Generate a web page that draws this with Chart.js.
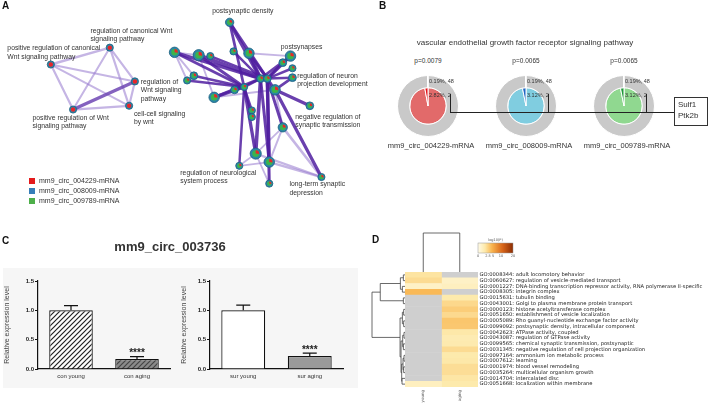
<!DOCTYPE html>
<html lang="en">
<head>
<meta charset="UTF-8">
<title>circRNA figure</title>
<script src="https://cdn.jsdelivr.net/npm/chart.js"></script>
<style>
    body { margin: 0; background: #fff; font-family: Arial, "Liberation Sans", sans-serif; color: #333; }
    #fig { position: relative; width: 708px; height: 405px; overflow: hidden; background: #fff; }
    #fig canvas, #fig .abs { position: absolute; }
    .letter { position: absolute; font-weight: bold; font-size: 10px; line-height: 10px; color: #111; }
    .legItem { position: absolute; left: 29px; font-size: 7px; line-height: 8px; color: #333; white-space: nowrap; }
    .legItem span { display: inline-block; width: 6px; height: 6px; margin-right: 4px; vertical-align: -1px; }
    .bTxt { position: absolute; white-space: nowrap; color: #333; }
    #cBg { left: 3px; top: 268px; width: 355px; height: 120px; background: #f6f6f6; }
    #cTitle { left: 60px; top: 239px; width: 220px; text-align: center; font-weight: bold; font-size: 13px; line-height: 16px; color: #333; }
</style>
</head>
<body>
<div id="fig">
    <canvas id="netChart" width="380" height="205" style="left:0;top:0"></canvas>
    <div class="letter" style="left:2px;top:1px">A</div>
    <div id="netLegend"></div>

    <div id="panelB"></div>
    <div class="letter" style="left:379px;top:1px">B</div>

    <div class="letter" style="left:2px;top:236px">C</div>
    <div id="cTitle" class="abs">mm9_circ_003736</div>
    <div id="cBg" class="abs"></div>
    <canvas id="conChart" width="177" height="120" style="left:3px;top:268px"></canvas>
    <canvas id="surChart" width="178" height="120" style="left:180px;top:268px"></canvas>

    <div class="letter" style="left:372px;top:235px">D</div>
    <canvas id="heatChart" width="348" height="180" style="left:360px;top:225px"></canvas>
</div>

<script>
// ---------------- data ----------------

// A: enrichment network (node layout)
const netLayoutX = [107, 46, 133, 69, 127,
    231, 174, 199, 211, 235, 251, 294, 286, 296, 296, 194, 187, 263, 270, 278, 236, 246, 215, 314, 254, 254, 286, 258, 272, 241, 326, 272];
const netLayoutY = [44, 62, 80, 110, 106,
    17, 49, 52, 53, 48, 50, 53, 60, 66, 76, 74, 79, 77, 77, 89, 89, 86, 97, 106, 111, 118, 129, 157, 166, 170, 182, 189];
const netGeneCount = [3, 3, 3, 3, 3,
    5, 10, 12, 3, 3, 10, 10, 4, 3, 4, 4, 3, 4, 4, 10, 4, 3, 10, 4, 3, 3, 7, 12, 10, 3, 3, 3];
const netCluster = [0, 0, 0, 0, 0,
    1, 1, 1, 1, 1, 1, 1, 1, 1, 1, 1, 1, 1, 1, 1, 1, 1, 1, 1, 1, 1, 1, 1, 1, 1, 1, 1];
// [from, to, similarity]
const netEdgesLight = [[0, 1, .6], [0, 2, .5], [0, 3, .4], [0, 4, .5], [1, 2, .4], [1, 3, .5], [1, 4, .4], [2, 4, .5], [3, 4, .5],
    [6, 16, .4], [6, 15, .4], [15, 16, .3], [6, 7, .3], [7, 22, .3], [22, 19, .4], [27, 29, .3], [27, 30, .5], [28, 30, .6],
    [26, 30, .7], [26, 28, .4], [29, 28, .3], [31, 27, .3], [31, 28, .3], [26, 27, .3], [19, 26, .4], [10, 11, .3]];
const netEdgesMid = [[2, 3, .9]];
const netEdgesDark = [[5, 17, .9], [5, 21, .6], [5, 18, .7], [6, 17, .8], [6, 21, .6], [7, 17, 1], [7, 21, .7], [8, 18, .5],
    [9, 17, .5], [10, 17, .9], [10, 18, .7], [11, 18, .8], [12, 18, .6], [13, 18, .5], [14, 19, .6], [15, 21, .6], [16, 21, .5],
    [20, 21, .6], [22, 21, .8], [22, 17, .7], [23, 19, .8], [24, 21, .5], [25, 21, .5], [26, 18, .7], [27, 17, .9], [27, 21, .8],
    [28, 18, .9], [28, 17, .7], [29, 21, .5], [30, 19, .8], [31, 18, .7], [19, 18, .6], [17, 18, .7], [21, 17, .6], [14, 18, .5], [11, 17, .6]];
const netLabelText = [
    ['regulation of canonical Wnt', 'signaling pathway'],
    ['positive regulation of canonical', 'Wnt signaling pathway'],
    ['regulation of', 'Wnt signaling', 'pathway'],
    ['positive regulation of Wnt', 'signaling pathway'],
    ['cell-cell signaling', 'by wnt'],
    ['postsynaptic density'],
    ['postsynapses'],
    ['regulation of neuron', 'projection development'],
    ['negative regulation of', 'synaptic transmission'],
    ['regulation of neurological', 'system process'],
    ['long-term synaptic', 'depression']
];
const netLabelAt = [[87, 26], [1, 45], [139, 81], [27, 119], [132, 115], [213, 5], [284, 43], [301, 74], [299, 118], [180, 178], [293, 190]];
const netLists = ['mm9_circ_004229-mRNA', 'mm9_circ_008009-mRNA', 'mm9_circ_009789-mRNA'];

// B: VEGF receptor signaling pathway enrichment
const vegfTitle = 'vascular endothelial growth factor receptor signaling pathway';
const vegfLists = ['mm9_circ_004229-mRNA', 'mm9_circ_008009-mRNA', 'mm9_circ_009789-mRNA'];
const vegfP = ['p=0.0079', 'p=0.0065', 'p=0.0065'];
const vegfBgPct = [0.19, 0.19, 0.19];
const vegfBgCount = [48, 48, 48];
const vegfHitPct = [2.82, 3.12, 3.12];
const vegfHitCount = [2, 2, 2];
const vegfGenes = ['Sulf1', 'Ptk2b'];

// C: qPCR of mm9_circ_003736
const qpcrConGroups = ['con young', 'con aging'];
const qpcrConMean = [1.0, 0.17];
const qpcrConErr = [0.08, 0.04];
const qpcrSurGroups = ['sur young', 'sur aging'];
const qpcrSurMean = [1.0, 0.22];
const qpcrSurErr = [0.09, 0.05];
const qpcrStars = ['', '****'];

// D: GO heatmap, log10(P) per list (null = not enriched)
const heatColumns = ['young', 'aging'];
const goTerms = [
    'GO:0008344: adult locomotory behavior',
    'GO:0060627: regulation of vesicle-mediated transport',
    'GO:0001227: DNA-binding transcription repressor activity, RNA polymerase II-specific',
    'GO:0008305: integrin complex',
    'GO:0015631: tubulin binding',
    'GO:0043001: Golgi to plasma membrane protein transport',
    'GO:0000123: histone acetyltransferase complex',
    'GO:0051650: establishment of vesicle localization',
    'GO:0005089: Rho guanyl-nucleotide exchange factor activity',
    'GO:0099092: postsynaptic density, intracellular component',
    'GO:0042623: ATPase activity, coupled',
    'GO:0043087: regulation of GTPase activity',
    'GO:0099565: chemical synaptic transmission, postsynaptic',
    'GO:0031345: negative regulation of cell projection organization',
    'GO:0097164: ammonium ion metabolic process',
    'GO:0007612: learning',
    'GO:0001974: blood vessel remodeling',
    'GO:0035264: multicellular organism growth',
    'GO:0014704: intercalated disc',
    'GO:0051668: localization within membrane'
];
const heatYoung = [1.6, 2.0, 0.5, 4.0, null, null, null, null, null, null, null, null, null, null, null, null, null, null, null, 0.7];
const heatAging = [null, 0.5, 0.7, null, 1.3, 2.2, 2.8, 2.1, 3.2, 3.1, 1.4, 1.1, 1.2, 2.0, 1.3, 1.4, 1.9, 1.9, 1.5, 1.3];
const heatTicks = [0, 2.5, 5, 10, 20];
// row clustering: [childA, childB, height], new ids start at 20
const rowMerges = [[0, 1, .05], [2, 3, .08], [20, 21, .14], [4, 5, .05], [22, 23, .75],
    [6, 7, .04], [8, 9, .04], [25, 26, .08], [10, 11, .03], [12, 13, .05], [28, 29, .07], [14, 15, .03], [16, 17, .04],
    [31, 32, .06], [18, 19, .09], [33, 34, .1], [30, 35, .12], [27, 36, .15], [24, 37, 1.0]];

// ---------------- setup ----------------
Chart.defaults.animation = false;
Chart.defaults.font.family = 'Arial, "Liberation Sans", sans-serif';
Chart.defaults.plugins.legend.display = false;
Chart.defaults.plugins.tooltip.enabled = false;

// ---------------- A: network ----------------
const netPt = i => ({ x: netLayoutX[i], y: netLayoutY[i] });
const nodeRadius = n => 1.6 + 1.15 * Math.sqrt(n);

const netDatasets = [{
    data: netLayoutX.map((x, i) => netPt(i)),
    pointRadius: netGeneCount.map(nodeRadius),
    backgroundColor: '#2a86a8',
    borderColor: '#1b5f7e',
    borderWidth: 0.8,
    order: 0
}];
function addEdges(list, color, base, scale, order) {
    list.forEach(([a, b, w]) => netDatasets.push({
        data: [netPt(a), netPt(b)], showLine: true, pointRadius: 0,
        borderColor: color, borderWidth: base + scale * w, borderCapStyle: 'round', order: order
    }));
}
addEdges(netEdgesLight, 'rgba(150, 120, 205, 0.55)', 1.2, 2, 3);
addEdges(netEdgesMid, 'rgba(110, 70, 180, 0.85)', 1.5, 2, 2);
addEdges(netEdgesDark, 'rgba(80, 30, 160, 0.85)', 1.2, 2.6, 1);

const netDecor = {
    id: 'netDecor',
    afterDatasetsDraw(chart) {
        const ctx = chart.ctx;
        const meta = chart.getDatasetMeta(0);
        meta.data.forEach((pt, i) => {
            const r = nodeRadius(netGeneCount[i]) * 0.62;
            ctx.save();
            if (netCluster[i] === 0) {
                ctx.fillStyle = '#e8262a';
                ctx.beginPath(); ctx.arc(pt.x, pt.y, r, 0, Math.PI * 2); ctx.fill();
            } else {
                ctx.fillStyle = '#3cb44b';
                ctx.beginPath(); ctx.arc(pt.x, pt.y, r, 0, Math.PI * 2); ctx.fill();
                ctx.fillStyle = '#e8262a';
                ctx.beginPath(); ctx.moveTo(pt.x, pt.y); ctx.arc(pt.x, pt.y, r, -Math.PI / 2, 0.15); ctx.closePath(); ctx.fill();
            }
            ctx.restore();
        });
        // term labels
        const xs = chart.scales.x, ys = chart.scales.y;
        ctx.save();
        ctx.fillStyle = '#333';
        ctx.font = '6.8px Arial, "Liberation Sans", sans-serif';
        ctx.textBaseline = 'middle';
        netLabelText.forEach((lines, k) => {
            lines.forEach((t, j) => ctx.fillText(t, xs.getPixelForValue(netLabelAt[k][0]), ys.getPixelForValue(netLabelAt[k][1] + j * 8.8)));
        });
        ctx.restore();
    }
};

new Chart(document.getElementById('netChart'), {
    type: 'scatter',
    data: { datasets: netDatasets },
    options: {
        responsive: false,
        layout: { padding: 0 },
        scales: {
            x: { type: 'linear', min: 0, max: 380, display: false },
            y: { type: 'linear', min: 0, max: 205, reverse: true, display: false }
        }
    },
    plugins: [netDecor]
});

const netColors = ['#e41a1c', '#377eb8', '#4daf4a'];
document.getElementById('netLegend').innerHTML = netLists.map((n, i) =>
    `<div class="legItem" style="top:${177 + i * 10}px"><span style="background:${netColors[i]}"></span>${n}</div>`).join('');

// ---------------- B: pies ----------------
const pieCx = [428, 526, 624], pieCy = 106;
const pieMain = ['#e26a6a', '#80cde0', '#90d890'];
const pieHit = ['#e3141b', '#2166c4', '#1f9a3a'];
let bHtml = `<div class="bTxt" style="left:375px;top:38px;width:300px;text-align:center;font-size:8px">${vegfTitle}</div>`;
vegfLists.forEach((name, i) => {
    const cx = pieCx[i];
    bHtml += `<div class="bTxt" style="left:${cx - 30}px;top:57px;width:60px;text-align:center;font-size:6.5px;color:#333">${vegfP[i]}</div>`;
    bHtml += `<canvas id="pie${i}" width="64" height="64" style="left:${cx - 32}px;top:${pieCy - 32}px"></canvas>`;
    bHtml += `<div class="bTxt" style="left:${cx + 1}px;top:${pieCy - 28}px;font-size:5.5px">${vegfBgPct[i].toFixed(2)}%, ${vegfBgCount[i]}</div>`;
    bHtml += `<div class="bTxt" style="left:${cx + 1}px;top:${pieCy - 14}px;font-size:5.5px">${vegfHitPct[i].toFixed(2)}%, ${vegfHitCount[i]}</div>`;
    bHtml += `<div class="abs" style="left:${cx + 22}px;top:${pieCy - 12}px;width:1px;height:18px;background:#222;z-index:3"></div>`;
    bHtml += `<div class="bTxt" style="left:${cx - 57}px;top:141px;width:120px;text-align:center;font-size:7.5px">${name}</div>`;
});
bHtml += `<div class="abs" style="left:${pieCx[0] + 22}px;top:${pieCy + 6}px;width:${674 - pieCx[0] - 22}px;height:1px;background:#222;z-index:3"></div>`;
bHtml += `<div class="bTxt" style="left:674px;top:97px;width:29px;height:26px;border:1px solid #333;background:#fff;font-size:8px;line-height:11px;padding-left:3px;padding-top:1px;box-sizing:content-box">${vegfGenes.join('<br>')}</div>`;
document.getElementById('panelB').innerHTML = bHtml;

vegfLists.forEach((name, i) => {
    new Chart(document.getElementById('pie' + i), {
        type: 'doughnut',
        data: {
            labels: ['other', 'pathway'],
            datasets: [
                { data: [100 - vegfBgPct[i], vegfBgPct[i]], backgroundColor: ['#c9c9c9', '#ffffff'], borderColor: '#fff', borderWidth: 1, weight: 2 },
                { data: [100 - vegfHitPct[i], vegfHitPct[i]], backgroundColor: [pieMain[i], pieHit[i]], borderColor: '#fff', borderWidth: 1, weight: 3 }
            ]
        },
        options: { responsive: false, cutout: 0, layout: { padding: 1 } }
    });
});

// ---------------- C: bars ----------------
function hatch(bg, fg) {
    const c = document.createElement('canvas');
    c.width = c.height = 5;
    const x = c.getContext('2d');
    x.fillStyle = bg; x.fillRect(0, 0, 5, 5);
    x.strokeStyle = fg; x.lineWidth = 1.2;
    x.beginPath();
    x.moveTo(0, 5); x.lineTo(5, 0);
    x.moveTo(-1, 1); x.lineTo(1, -1);
    x.moveTo(4, 6); x.lineTo(6, 4);
    x.stroke();
    return x.createPattern(c, 'repeat');
}

const errorBars = {
    id: 'errorBars',
    afterDatasetsDraw(chart, args, opts) {
        const ctx = chart.ctx, y = chart.scales.y;
        const ds = chart.data.datasets[0];
        chart.getDatasetMeta(0).data.forEach((bar, i) => {
            const top = y.getPixelForValue(ds.data[i] + opts.errors[i]);
            ctx.save();
            ctx.strokeStyle = '#111'; ctx.lineWidth = 1.2;
            ctx.beginPath();
            ctx.moveTo(bar.x, bar.y); ctx.lineTo(bar.x, top);
            ctx.moveTo(bar.x - 7, top); ctx.lineTo(bar.x + 7, top);
            ctx.stroke();
            if (opts.stars[i]) {
                ctx.fillStyle = '#222'; ctx.font = 'bold 10px Arial, "Liberation Sans", sans-serif';
                ctx.textAlign = 'center'; ctx.textBaseline = 'middle';
                ctx.fillText(opts.stars[i], bar.x, top - 3);
            }
            ctx.restore();
        });
    }
};

function qpcrChart(id, labels, values, errors, fills, padRight, yWidth) {
    return new Chart(document.getElementById(id), {
        type: 'bar',
        data: { labels: labels, datasets: [{ data: values, backgroundColor: fills, borderColor: '#111', borderWidth: 1.2, barPercentage: 0.66, categoryPercentage: 1 }] },
        options: {
            responsive: false,
            layout: { padding: { top: 13, right: padRight, bottom: 2, left: 0 } },
            plugins: { errorBars: { errors: errors, stars: qpcrStars } },
            scales: {
                y: {
                    min: 0, max: 1.5,
                    ticks: { stepSize: 0.5, callback: v => v.toFixed(1), font: { size: 6, weight: 'bold' }, color: '#222', padding: 1 },
                    grid: { drawOnChartArea: false, tickLength: 3, color: '#111' },
                    border: { color: '#111', width: 1.2 },
                    title: { display: true, text: 'Relative expression level', font: { size: 7 }, color: '#444', padding: 0 },
                    afterFit(s) { s.width = yWidth; }
                },
                x: {
                    grid: { display: false, drawTicks: false },
                    border: { color: '#111', width: 1.2 },
                    ticks: { font: { size: 6 }, color: '#333', padding: 4 },
                    afterFit(s) { s.height = 17; }
                }
            }
        },
        plugins: [errorBars]
    });
}

qpcrChart('conChart', qpcrConGroups, qpcrConMean, qpcrConErr, [hatch('#ffffff', '#222'), hatch('#8a8a8a', '#444')], 10, 35);
qpcrChart('surChart', qpcrSurGroups, qpcrSurMean, qpcrSurErr, ['#ffffff', '#9a9a9a'], 15, 30);

// ---------------- D: heatmap ----------------
const heatStops = [[0, [255, 251, 232]], [0.2, [253, 233, 170]], [0.4, [249, 180, 78]], [0.7, [216, 102, 26]], [1, [140, 45, 4]]];
const heatFrac = v => Math.pow(Math.min(v, 20) / 20, 0.6);
function rampColor(f) {
    for (let k = 1; k < heatStops.length; k++) {
        if (f <= heatStops[k][0]) {
            const [f0, c0] = heatStops[k - 1], [f1, c1] = heatStops[k];
            const t = (f - f0) / (f1 - f0);
            return `rgb(${c0.map((c, j) => Math.round(c + (c1[j] - c) * t)).join(',')})`;
        }
    }
    return 'rgb(140,45,4)';
}
const heatColor = v => v === null ? '#cfcfcf' : rampColor(heatFrac(v));

const heatDecor = {
    id: 'heatDecor',
    afterDraw(chart) {
        const ctx = chart.ctx, a = chart.chartArea, ys = chart.scales.y, xs = chart.scales.x;
        ctx.save();
        ctx.strokeStyle = '#444'; ctx.lineWidth = 0.8;
        // row dendrogram
        const nodes = goTerms.map((t, i) => ({ x: a.left, y: ys.getPixelForValue(i) }));
        rowMerges.forEach(([p, q, h]) => {
            const A = nodes[p], B = nodes[q], x = a.left - h * 33;
            ctx.beginPath();
            ctx.moveTo(A.x, A.y); ctx.lineTo(x, A.y); ctx.lineTo(x, B.y); ctx.lineTo(B.x, B.y);
            ctx.stroke();
            nodes.push({ x: x, y: (A.y + B.y) / 2 });
        });
        // column dendrogram
        const c0 = xs.getPixelForValue(0.5), c1 = xs.getPixelForValue(1.5), top = a.top - 39;
        ctx.beginPath();
        ctx.moveTo(c0, a.top); ctx.lineTo(c0, top); ctx.lineTo(c1, top); ctx.lineTo(c1, a.top);
        ctx.stroke();
        // column names
        ctx.fillStyle = '#555'; ctx.font = '4px "DejaVu Sans", sans-serif';
        ctx.textAlign = 'right'; ctx.textBaseline = 'middle';
        heatColumns.forEach((n, i) => {
            ctx.save(); ctx.translate(xs.getPixelForValue(i + 0.5), a.bottom + 3); ctx.rotate(-Math.PI / 2);
            ctx.fillText(n, 0, 0); ctx.restore();
        });
        // colour key
        const kx = a.right, ky = a.top - 29, kw = 35, kh = 10;
        const g = ctx.createLinearGradient(kx, 0, kx + kw, 0);
        for (let s = 0; s <= 10; s++) g.addColorStop(s / 10, rampColor(s / 10));
        ctx.fillStyle = g; ctx.fillRect(kx, ky, kw, kh);
        ctx.strokeStyle = '#999'; ctx.lineWidth = 0.5; ctx.strokeRect(kx, ky, kw, kh);
        ctx.fillStyle = '#555'; ctx.font = '3.5px "DejaVu Sans", sans-serif'; ctx.textAlign = 'center';
        ctx.fillText('log10(P)', kx + kw / 2, ky - 3);
        heatTicks.forEach(t => ctx.fillText(String(t), kx + kw * heatFrac(t), ky + kh + 3));
        ctx.restore();
    }
};

new Chart(document.getElementById('heatChart'), {
    type: 'bar',
    data: {
        labels: goTerms,
        datasets: heatColumns.map((c, k) => ({
            label: c,
            data: goTerms.map(() => 1),
            backgroundColor: (k === 0 ? heatYoung : heatAging).map(heatColor),
            borderWidth: 0, barPercentage: 1, categoryPercentage: 1
        }))
    },
    options: {
        indexAxis: 'y',
        responsive: false,
        layout: { padding: { left: 45, top: 47, bottom: 18, right: 0 } },
        scales: {
            x: { stacked: true, display: false, min: 0, max: 2 },
            y: {
                stacked: true, position: 'right',
                grid: { display: false, drawTicks: false }, border: { display: false },
                ticks: { autoSkip: false, padding: 1.5, color: '#222', font: { size: 5.2, family: '"DejaVu Sans", sans-serif' } },
                afterFit(s) { s.width = 230; }
            }
        }
    },
    plugins: [heatDecor]
});
</script>
</body>
</html>
